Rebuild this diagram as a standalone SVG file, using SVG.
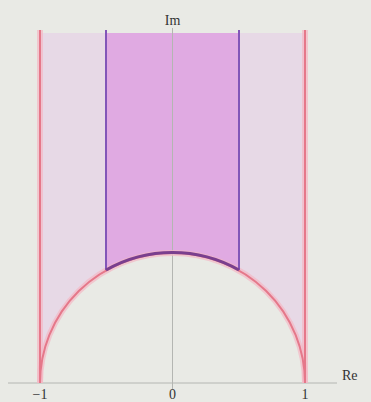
<svg xmlns="http://www.w3.org/2000/svg" width="371" height="402" viewBox="0 0 371 402">
<style>
.lbl{font-family:"Liberation Serif","DejaVu Serif",serif;font-size:14px;fill:#333;}
.axis{stroke:#b4b6b2;stroke-width:1;fill:none;}
.red{stroke:#e5788a;stroke-width:2;fill:none;}
.glow{stroke:#f4b8c4;stroke-width:6;fill:none;opacity:0.7;}
.purp{stroke:#8256b8;stroke-width:2;fill:none;}
</style>
<rect width="371" height="402" fill="#e9eae5"/>
<g id="regions">
<path id="outer-left" d="M40,33 L106,33 L106,270 A132.5 130 0 0 0 40,383 Z" fill="#e7d9e6"/>
<path id="outer-right" d="M239,33 L305,33 L305,383 A132.5 130 0 0 0 239,270 Z" fill="#e7d9e6"/>
<path id="fundamental" d="M106,33 L239,33 L239,270 A132.5 130 0 0 0 106,270 Z" fill="#e0aae2"/>
</g>
<g id="axes">
<line class="axis" x1="8" y1="383" x2="337" y2="383"/>
<line class="axis" x1="172.5" y1="28" x2="172.5" y2="390"/>
</g>
<g id="connectors">
<line class="glow" x1="40" y1="30" x2="40" y2="383"/>
<line class="glow" x1="305" y1="30" x2="305" y2="383"/>
<path class="glow" d="M40,383 A132.5 130 0 0 1 305,383"/>
<line class="red" x1="40" y1="30" x2="40" y2="383"/>
<line class="red" x1="305" y1="30" x2="305" y2="383"/>
<path class="red" d="M40,383 A132.5 130 0 0 1 305,383"/>
<line class="purp" x1="106" y1="30" x2="106" y2="270"/>
<line class="purp" x1="239" y1="30" x2="239" y2="270"/>
<path d="M106,270 A132.5 130 0 0 1 239,270" stroke="#7a3f8e" stroke-width="3" fill="none"/>
</g>
<g id="labels">
<text class="lbl" x="172.5" y="25" text-anchor="middle">Im</text>
<text class="lbl" x="342" y="380">Re</text>
<text class="lbl" x="40" y="399" text-anchor="middle">−1</text>
<text class="lbl" x="172.5" y="399" text-anchor="middle">0</text>
<text class="lbl" x="305" y="399" text-anchor="middle">1</text>
</g>
</svg>
